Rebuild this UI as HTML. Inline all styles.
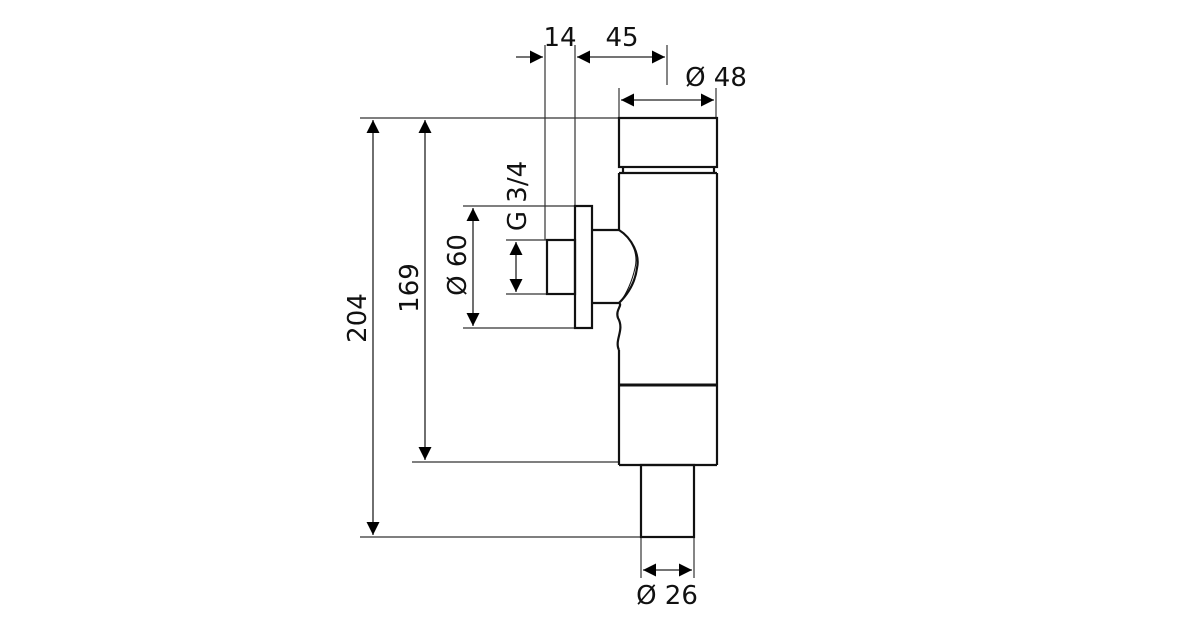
<!DOCTYPE html>
<html><head><meta charset="utf-8"><style>
html,body{margin:0;padding:0;background:#fff;}
svg{display:block;}
text{font-family:"DejaVu Sans","Liberation Sans",sans-serif;font-size:26px;fill:#111;}
</style></head><body>
<svg width="1200" height="630" viewBox="0 0 1200 630" xmlns="http://www.w3.org/2000/svg">
<defs>
<marker id="a" viewBox="0 0 10 10" refX="10" refY="5" markerWidth="14" markerHeight="13" markerUnits="userSpaceOnUse" orient="auto-start-reverse"><path d="M0,0 L10,5 L0,10 z" fill="#000"/></marker>
</defs>
<g stroke="#333" stroke-width="1.2" fill="none">
<line x1="360" y1="118" x2="619" y2="118"/>
<line x1="360" y1="537" x2="641" y2="537"/>
<line x1="412" y1="462" x2="619" y2="462"/>
<line x1="463" y1="206" x2="575" y2="206"/>
<line x1="463" y1="328" x2="575" y2="328"/>
<line x1="506" y1="240" x2="547" y2="240"/>
<line x1="506" y1="294" x2="547" y2="294"/>
<line x1="545" y1="45" x2="545" y2="240"/>
<line x1="575" y1="45" x2="575" y2="206"/>
<line x1="667" y1="45" x2="667" y2="85"/>
<line x1="619" y1="88" x2="619" y2="118"/>
<line x1="716" y1="88" x2="716" y2="118"/>
<line x1="641" y1="537" x2="641" y2="578"/>
<line x1="694" y1="537" x2="694" y2="578"/>
</g>
<g stroke="#222" stroke-width="1.3" fill="none">
<line x1="373" y1="120" x2="373" y2="535" marker-start="url(#a)" marker-end="url(#a)"/>
<line x1="425" y1="120" x2="425" y2="460" marker-start="url(#a)" marker-end="url(#a)"/>
<line x1="473" y1="208" x2="473" y2="326" marker-start="url(#a)" marker-end="url(#a)"/>
<line x1="516" y1="242" x2="516" y2="292" marker-start="url(#a)" marker-end="url(#a)"/>
<line x1="516" y1="57" x2="543" y2="57" marker-end="url(#a)"/>
<line x1="577" y1="57" x2="665" y2="57" marker-start="url(#a)" marker-end="url(#a)"/>
<line x1="621" y1="100" x2="714" y2="100" marker-start="url(#a)" marker-end="url(#a)"/>
<line x1="643" y1="570" x2="692" y2="570" marker-start="url(#a)" marker-end="url(#a)"/>
</g>
<g stroke="#111" stroke-width="2.2" fill="none">
<rect x="619" y="118" width="98" height="49"/>
<line x1="623" y1="167" x2="623" y2="173"/>
<line x1="714" y1="167" x2="714" y2="173"/>
<line x1="619" y1="173" x2="717" y2="173"/>
<line x1="717" y1="173" x2="717" y2="465"/>
<line x1="619" y1="173" x2="619" y2="230"/>
<path d="M619,350 C614,340 625,330 618,318 C615,310 623,305 619,303"/>
<line x1="619" y1="350" x2="619" y2="465"/>
<line x1="619" y1="385" x2="717" y2="385" stroke-width="3"/>
<line x1="619" y1="465" x2="717" y2="465"/>
<rect x="641" y="465" width="53" height="72"/>
<rect x="575" y="206" width="17" height="122"/>
<rect x="547" y="240" width="28" height="54"/>
<line x1="592" y1="230" x2="619" y2="230"/>
<line x1="592" y1="303" x2="619" y2="303"/>
<path d="M619,230 C632,238 640,255 637,268 C635,284 626,296 619,303"/>
<path d="M622,232 C634,242 638,256 635,268 C632,282 626,294 621,301" stroke-width="1"/>
</g>
<text x="560" y="46" text-anchor="middle">14</text>
<text x="622" y="46" text-anchor="middle">45</text>
<text x="716" y="86" text-anchor="middle">Ø 48</text>
<text x="667" y="604" text-anchor="middle">Ø 26</text>
<text transform="translate(366,318) rotate(-90)" text-anchor="middle">204</text>
<text transform="translate(418,288) rotate(-90)" text-anchor="middle">169</text>
<text transform="translate(466,265) rotate(-90)" text-anchor="middle">Ø 60</text>
<text transform="translate(526,196) rotate(-90)" text-anchor="middle">G 3/4</text>
</svg>
</body></html>
